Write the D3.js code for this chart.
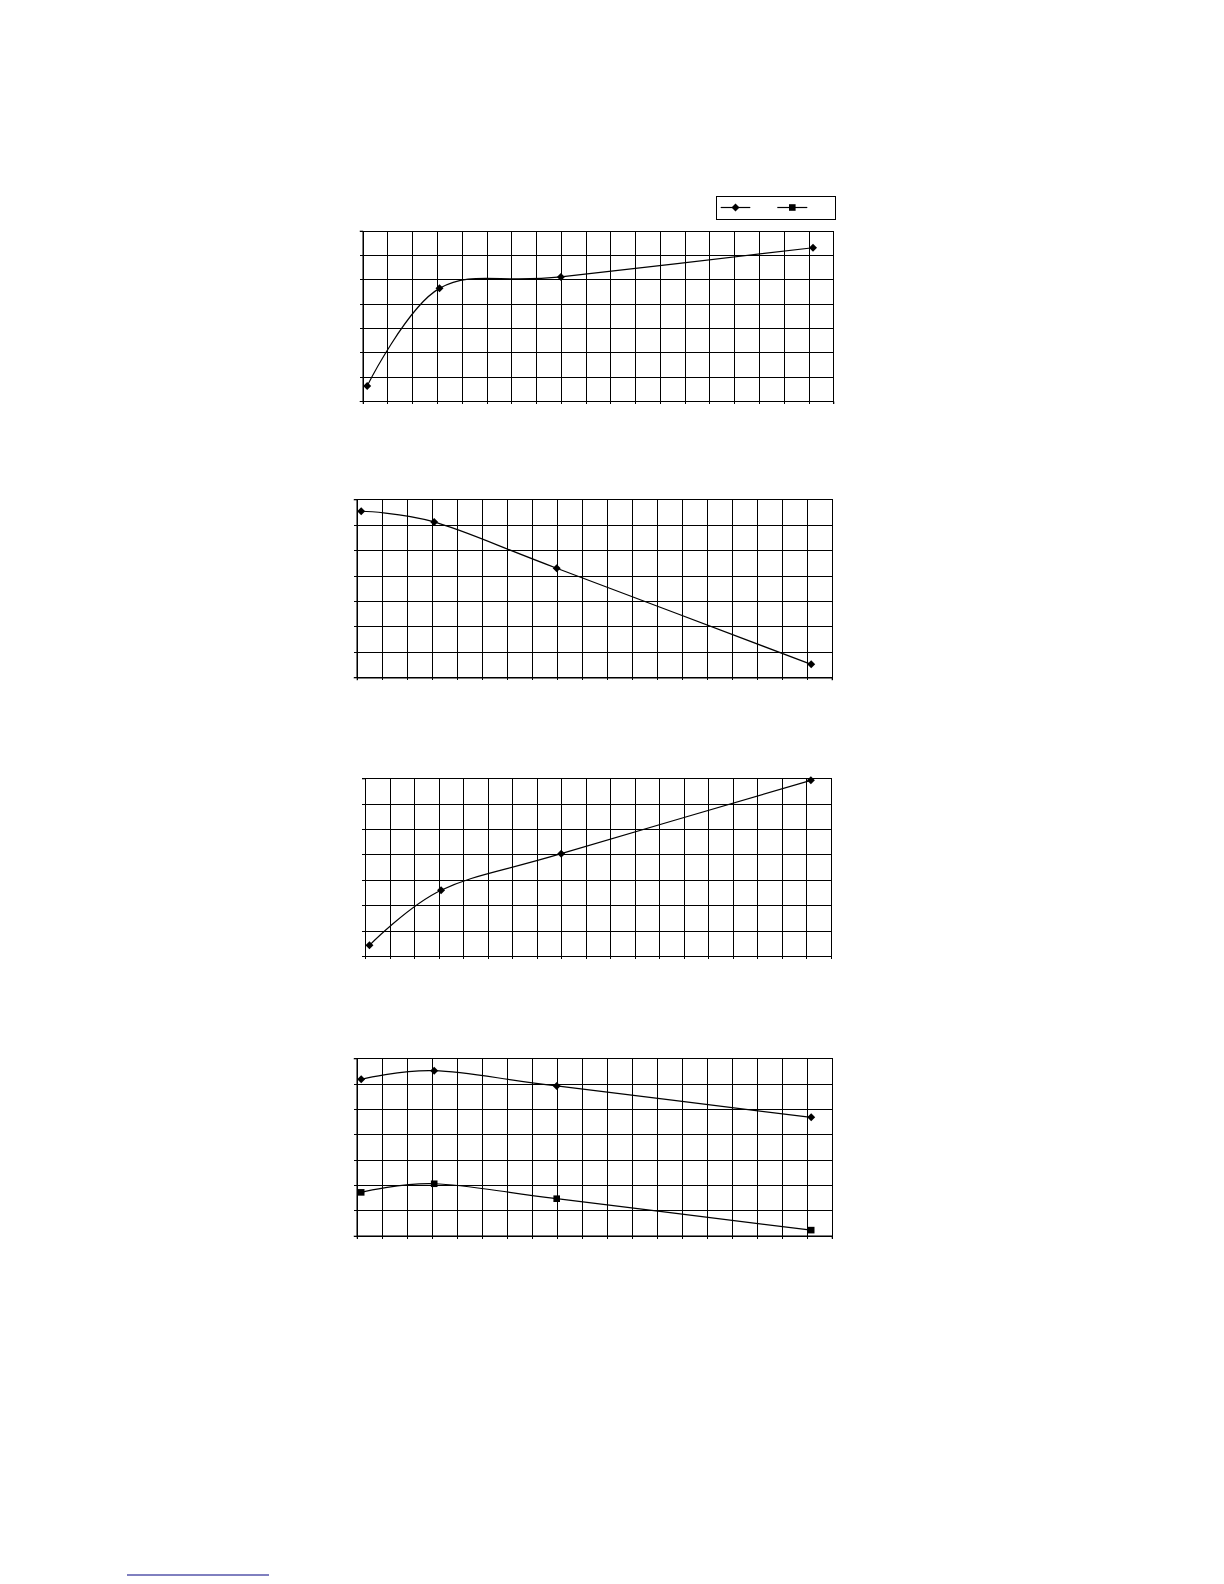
<!DOCTYPE html>
<html>
<head>
<meta charset="utf-8">
<script src="https://cdn.jsdelivr.net/npm/d3@7"></script>
<style>
  body { margin: 0; background: #fff; }
  svg { display: block; }
</style>
</head>
<body>
<script>

/* data (grid units: x 0..19, y 0..7) */
var xValues = [0.18, 3.1, 8.0, 18.18];

var chart1Values = [0.62, 4.63, 5.10, 6.30];
var chart2Values = [6.53, 6.11, 4.29, 0.51];
var chart3Values = [0.42, 2.59, 4.03, 6.92];
var chart4DiamondValues = [6.17, 6.51, 5.91, 4.67];
var chart4SquareValues = [1.71, 2.05, 1.46, 0.22];

var xTicks = d3.range(0, 20);
var yTicks = d3.range(0, 8);

/* layout of the four plot boxes */
var panels = [
    {left: 362.7, right: 833.3, top: 230.7, bottom: 401.0, series: [{values: chart1Values, marker: "diamond"}]},
    {left: 356.7, right: 831.7, top: 499.3, bottom: 677.3, series: [{values: chart2Values, marker: "diamond"}]},
    {left: 365.0, right: 831.0, top: 778.3, bottom: 956.0, series: [{values: chart3Values, marker: "diamond"}]},
    {left: 356.7, right: 831.7, top: 1058.3, bottom: 1235.7, series: [
        {values: chart4DiamondValues, marker: "diamond"},
        {values: chart4SquareValues, marker: "square"}
    ]}
];

var svgContainer = d3.select("body")
    .append("svg")
    .attr("width", 1224)
    .attr("height", 1584);

function markerPath(type) {
    if (type == "square") {
        var s = 3.3;
        return "M" + (-s) + "," + (-s) + "H" + s + "V" + s + "H" + (-s) + "Z";
    }
    var r = 4;
    return "M0," + (-r) + "L" + r + ",0L0," + r + "L" + (-r) + ",0Z";
}

panels.forEach(function (p) {
    var xScale = d3.scaleLinear()
        .domain([0, 19])
        .range([p.left, p.right]);
    var yScale = d3.scaleLinear()
        .domain([0, 7])
        .range([p.bottom, p.top]);

    var g = svgContainer.append("g");

    /* grid */
    var xGrid = d3.axisBottom(xScale)
        .tickValues(xTicks)
        .tickSizeInner(-(p.bottom - p.top))
        .tickSizeOuter(0)
        .tickFormat("");
    var yGrid = d3.axisLeft(yScale)
        .tickValues(yTicks)
        .tickSizeInner(-(p.right - p.left))
        .tickSizeOuter(0)
        .tickFormat("");

    g.append("g")
        .attr("transform", "translate(0," + p.bottom + ")")
        .call(xGrid);
    g.append("g")
        .attr("transform", "translate(" + p.left + ",0)")
        .call(yGrid);

    /* short outside ticks */
    g.append("g")
        .attr("transform", "translate(0," + p.bottom + ")")
        .call(d3.axisBottom(xScale).tickValues(xTicks).tickSize(3).tickFormat(""));
    g.append("g")
        .attr("transform", "translate(" + p.left + ",0)")
        .call(d3.axisLeft(yScale).tickValues(yTicks).tickSize(3).tickFormat(""));

    g.selectAll(".domain").attr("stroke", "#000");
    g.selectAll(".tick line")
        .attr("stroke", "#000")
        .attr("stroke-width", 1)
        .attr("shape-rendering", "crispEdges");

    var line = d3.line()
        .x(function (d) { return xScale(d[0]); })
        .y(function (d) { return yScale(d[1]); })
        .curve(d3.curveCardinal.tension(0));

    p.series.forEach(function (s) {
        var pts = xValues.map(function (x, i) { return [x, s.values[i]]; });

        g.append("path")
            .attr("d", line(pts))
            .attr("fill", "none")
            .attr("stroke", "#000")
            .attr("stroke-width", 1.2);

        g.selectAll(null)
            .data(pts)
            .enter()
            .append("path")
            .attr("d", markerPath(s.marker))
            .attr("transform", function (d) {
                return "translate(" + xScale(d[0]) + "," + yScale(d[1]) + ")";
            })
            .attr("fill", "#000");
    });
});

/* legend (no text in the original) */
var legend = svgContainer.append("g");
legend.append("rect")
    .attr("x", 716.5)
    .attr("y", 196.5)
    .attr("width", 119)
    .attr("height", 23)
    .attr("fill", "#fff")
    .attr("stroke", "#000")
    .attr("stroke-width", 1);

var legendItems = [{marker: "diamond", x1: 720.7, x2: 750.3}, {marker: "square", x1: 777.3, x2: 807.3}];
legendItems.forEach(function (it) {
    legend.append("line")
        .attr("x1", it.x1).attr("x2", it.x2)
        .attr("y1", 207.5).attr("y2", 207.5)
        .attr("stroke", "#000")
        .attr("stroke-width", 1.2);
    legend.append("path")
        .attr("d", markerPath(it.marker))
        .attr("transform", "translate(" + ((it.x1 + it.x2) / 2) + ",207.5)")
        .attr("fill", "#000");
});

/* hyperlink underline at the bottom of the page */
svgContainer.append("line")
    .attr("x1", 127).attr("x2", 269)
    .attr("y1", 1575).attr("y2", 1575)
    .attr("stroke", "#000080")
    .attr("stroke-width", 1);

</script>
</body>
</html>
